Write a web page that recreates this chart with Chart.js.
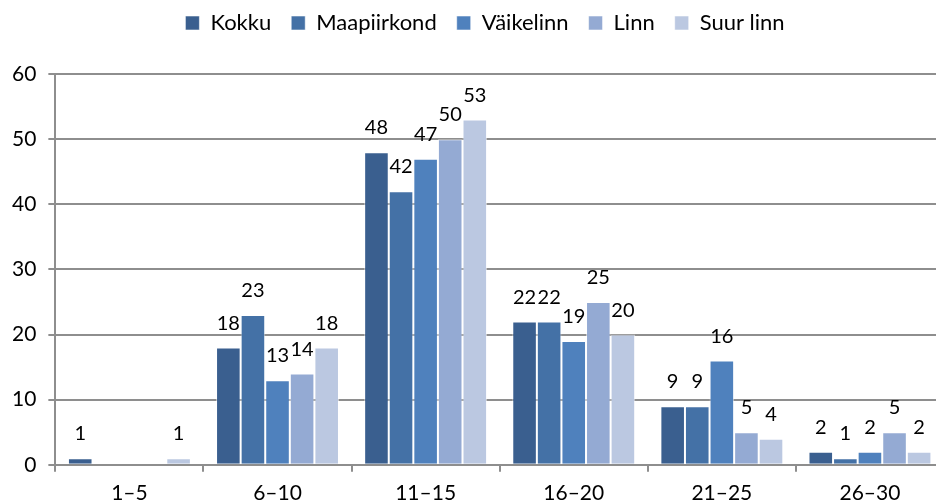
<!DOCTYPE html>
<html>
<head>
<meta charset="utf-8">
<script src="https://cdn.jsdelivr.net/npm/chart.js@4"></script>
<style>
  html, body { margin: 0; padding: 0; background: #fff; overflow: hidden; }
  #wrap { width: 950px; height: 504px; }
</style>
</head>
<body>
<div id="wrap"><canvas id="graafik"></canvas></div>
<script>
// vanuserühmad
const vanused = ["1–5", "6–10", "11–15", "16–20", "21–25", "26–30"];
const seeriad = ["Kokku", "Maapiirkond", "Väikelinn", "Linn", "Suur linn"];
const kokku = [1, 18, 48, 22, 9, 2];
const maapiirkond = [0, 23, 42, 22, 9, 1];
const vaikelinn = [0, 13, 47, 19, 16, 2];
const linn = [0, 14, 50, 25, 5, 5];
const suurLinn = [1, 18, 53, 20, 4, 2];
const yTicks = [0, 10, 20, 30, 40, 50, 60];
const varvid = ["#3a5f8f", "#4471a6", "#4f81bd", "#94aad3", "#bbc8e1"];

const FONT = "Lato, 'Open Sans', sans-serif";

// väärtused tulpade kohale (nulli ei näidata)
const sildid = {
    id: "sildid",
    afterInit(chart) {
        // legendi ja graafiku vahele rohkem ruumi
        const fit = chart.legend.fit;
        chart.legend.fit = function () {
            fit.call(this);
            this.height += 30;
        };
    },
    afterLayout(chart) {
        // legend veidi paremale
        chart.legend.left += 13;
        chart.legend.right += 13;
    },
    afterDatasetsDraw(chart) {
        const ctx = chart.ctx;
        ctx.save();
        ctx.font = "20px " + FONT;
        ctx.fillStyle = "#000";
        ctx.textAlign = "center";
        ctx.textBaseline = "alphabetic";
        chart.data.datasets.forEach((ds, i) => {
            chart.getDatasetMeta(i).data.forEach((bar, j) => {
                const v = ds.data[j];
                if (!v) return;
                ctx.fillText(String(v), bar.x, bar.y - 18);
            });
        });
        ctx.restore();
    },
};

const andmed = [kokku, maapiirkond, vaikelinn, linn, suurLinn];

new Chart(document.getElementById("graafik"), {
    type: "bar",
    data: {
        labels: vanused,
        datasets: seeriad.map((nimi, i) => ({
            label: nimi,
            data: andmed[i],
            backgroundColor: varvid[i],
            borderColor: "rgba(255,255,255,0.55)",
            borderWidth: 1,
            categoryPercentage: 0.83,
            barPercentage: 1.0,
        })),
    },
    options: {
        responsive: true,
        maintainAspectRatio: false,
        animation: false,
        layout: { padding: { left: 0, right: 6, top: -8, bottom: -11 } },
        plugins: {
            legend: {
                position: "top",
                labels: {
                    boxWidth: 14,
                    boxHeight: 14,
                    padding: 20,
                    color: "#000",
                    font: { family: FONT, size: 22 },
                },
            },
            tooltip: { enabled: false },
        },
        scales: {
            x: {
                grid: {
                    offset: true,
                    drawOnChartArea: false,
                    drawTicks: true,
                    tickLength: 7,
                    color: "#8e8e8e",
                    lineWidth: 2,
                },
                border: { color: "#8e8e8e", width: 2 },
                ticks: {
                    color: "#000",
                    font: { family: FONT, size: 21 },
                    padding: 9,
                },
            },
            y: {
                min: 0,
                max: 60,
                afterBuildTicks(axis) {
                    axis.ticks = yTicks.map((v) => ({ value: v }));
                },
                grid: {
                    color: "#8e8e8e",
                    lineWidth: 2,
                    tickLength: 7,
                },
                border: { color: "#8e8e8e", width: 2 },
                ticks: {
                    color: "#000",
                    font: { family: FONT, size: 21 },
                    padding: 12,
                },
            },
        },
    },
    plugins: [sildid],
});
</script>
</body>
</html>
